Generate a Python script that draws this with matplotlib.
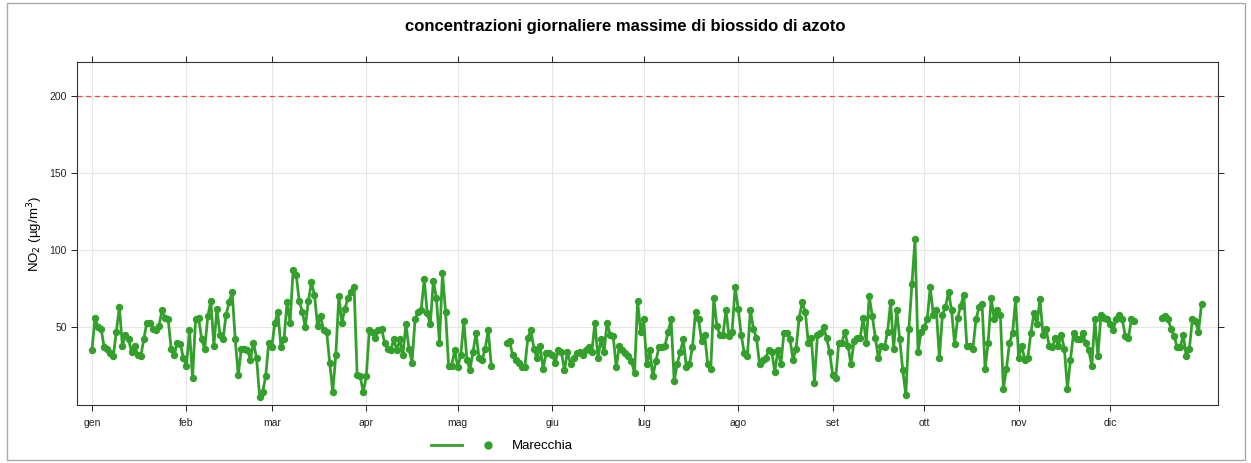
import numpy as np
import pandas as pd
import matplotlib
matplotlib.use("Agg")
import matplotlib.pyplot as plt
import matplotlib.dates as mdates
from matplotlib.lines import Line2D
from matplotlib.patches import Rectangle
from matplotlib.legend_handler import HandlerTuple

# daily maximum NO2 (ug/m3) at Marecchia, month by month (None = missing day)
jan = [35, 56, 50, 49, 37, 36, 33, 31, 47, 63, 38, 45, 42, 34, 38, 32, 31, 42, 53, 53,
       49, 48, 51, 61, 56, 55, 36, 32, 40, 39, 30]
feb = [25, 48, 17, 55, 56, 42, 36, 57, 67, 38, 62, 45, 42, 58, 66, 73, 42, 19, 36, 36,
       35, 29, 40, 30, 5, 8, 18, 40]
mar = [37, 53, 60, 37, 42, 66, 53, 87, 84, 67, 60, 50, 67, 79, 71, 51, 57, 48, 47, 27,
       8, 32, 70, 53, 62, 69, 73, 76, 19, 18, 8]
apr = [18, 48, 47, 43, 48, 49, 40, 36, 35, 42, 35, 42, 32, 52, 36, 27, 55, 60, 61, 81,
       59, 52, 80, 69, 40, 85, 60, 25, 25, 35]
may = [24, 32, 54, 29, 22, 34, 46, 30, 29, 36, 48, 25, None, None, None, None, 40, 41, 32, 29,
       27, 24, 24, 43, 48, 36, 30, 38, 23, 33, 33]
jun = [32, 27, 35, 34, 22, 34, 26, 30, 33, 34, 32, 35, 37, 34, 53, 30, 42, 34, 53, 45,
       44, 24, 38, 35, 33, 31, 28, 20, 67, 47]
jul = [55, 26, 35, 18, 28, 37, 37, 38, 47, 55, 15, 26, 34, 42, 24, 26, 37, 60, 55, 41,
       45, 26, 23, 69, 51, 45, 45, 61, 44, 47, 76]
aug = [62, 45, 33, 31, 61, 49, 43, 26, 29, 30, 35, 34, 21, 35, 26, 46, 46, 42, 29, 36,
       56, 66, 60, 40, 43, 14, 45, 46, 50, 43, 34]
sep = [19, 17, 40, 40, 47, 38, 26, 41, 43, 43, 56, 40, 70, 57, 43, 30, 38, 37, 47, 66,
       36, 61, 42, 22, 6, 49, 78, 107, 34, 47]
oct_ = [50, 55, 76, 58, 61, 30, 58, 63, 73, 61, 39, 56, 64, 71, 38, 38, 36, 55, 63, 65,
        23, 40, 69, 55, 61, 58, 10, 23, 40, 46, 68]
nov = [30, 38, 29, 30, 46, 59, 52, 68, 45, 49, 38, 37, 43, 38, 45, 36, 10, 29, 46, 42,
       42, 46, 40, 35, 25, 55, 31, 58, 56, 55]
dec = [52, 48, 55, 58, 55, 44, 43, 55, 54, None, None, None, None, None, None, None, None, 56, 57, 55,
       49, 44, 37, 37, 45, 31, 36, 55, 54, 47, 65]

month_labels = ["gen", "feb", "mar", "apr", "mag", "giu", "lug", "ago", "set", "ott", "nov", "dic"]
station = "Marecchia"
limit = 200

values = jan + feb + mar + apr + may + jun + jul + aug + sep + oct_ + nov + dec
no2 = pd.Series([np.nan if v is None else v for v in values],
                index=pd.date_range("2021-01-01", periods=len(values), freq="D"), dtype=float)

plt.rcParams["font.family"] = ["Liberation Sans", "DejaVu Sans"]

green = "#33a02c"

fig = plt.figure(figsize=(12.51, 4.63), dpi=100)
ax = fig.add_axes([77 / 1251, 1 - 405 / 463, (1218 - 77) / 1251, (405 - 62) / 463])

ax.plot(no2.index, no2.values, color=green, lw=2, marker="o", ms=4.3, mec=green, mfc=green)
ax.axhline(limit, color="#f04a40", ls=(0, (4, 3)), lw=0.9)

start = mdates.date2num(no2.index[0])
ax.set_xlim(start - 4.9, start + 369.4)
ax.set_ylim(-0.5, 222)

month_starts = pd.date_range("2021-01-01", periods=12, freq="MS")
ax.set_xticks(month_starts)
ax.set_xticklabels(month_labels)
ax.set_yticks([50, 100, 150, 200])

ax.grid(True, color="#e6e6e6", lw=0.8)
ax.set_axisbelow(True)
ax.tick_params(axis="both", direction="out", length=4, width=0.7, labelsize=7.5, colors="#222222",
               top=True, right=True, labeltop=False, labelright=False)
ax.tick_params(axis="x", pad=5)
for s in ax.spines.values():
    s.set_color("#333333")
    s.set_linewidth(0.8)

ax.set_ylabel("NO$_2$ (µg/m$^3$)", fontsize=9.5, labelpad=3)
fig.suptitle("concentrazioni giornaliere massime di biossido di azoto",
             fontsize=12, fontweight="bold", y=1 - 27 / 463, va="center")

# key: line and point side by side, as in a lattice key
h_line = Line2D([], [], color=green, lw=2)
h_pt = Line2D([], [], color=green, marker="o", ms=5, ls="none")
fig.legend([(h_line, h_pt)], [station], handler_map={tuple: HandlerTuple(ndivide=2, pad=0.8)},
           handlelength=5.5, handletextpad=0.6, frameon=False, fontsize=9.5, loc="center",
           bbox_to_anchor=(502 / 1251, 1 - 446 / 463))

# light frame around the whole figure
fig.add_artist(Rectangle((7 / 1251, 3 / 463), 1238 / 1251, 457 / 463, transform=fig.transFigure,
                         fill=False, ec="#aaaaaa", lw=1))

fig.savefig("out.png", dpi=100)
